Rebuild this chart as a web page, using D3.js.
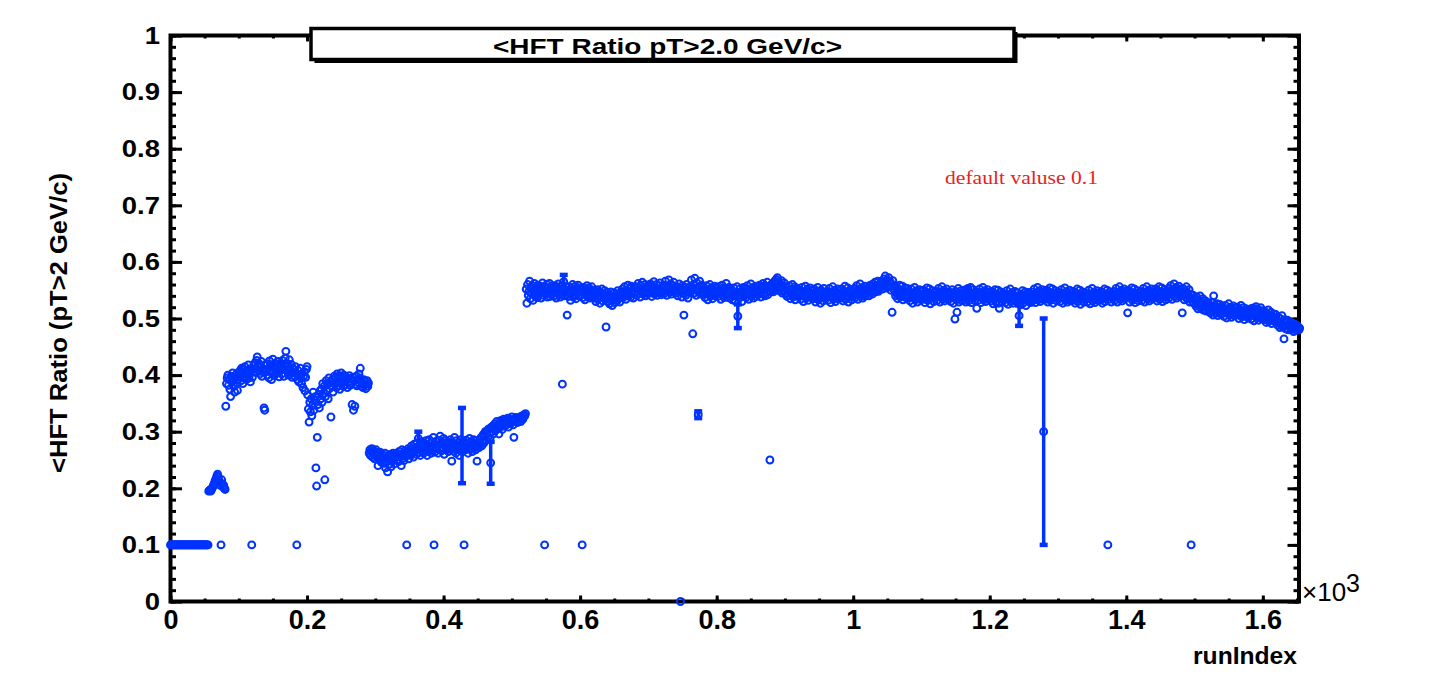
<!DOCTYPE html>
<html><head><meta charset="utf-8">
<script src="https://cdn.jsdelivr.net/npm/d3@7"></script>
<style>html,body{margin:0;padding:0;background:#fff;} svg{display:block;}</style>
</head><body>
<svg id="c" width="1431" height="685"></svg>
<script>
// ---------------- DATA ----------------
const xTickValues = [0, 200, 400, 600, 800, 1000, 1200, 1400, 1600];
const xTickLabels = ["0", "0.2", "0.4", "0.6", "0.8", "1", "1.2", "1.4", "1.6"];
const yTickValues = [0, 0.1, 0.2, 0.3, 0.4, 0.5, 0.6, 0.7, 0.8, 0.9, 1];
const yTickLabels = ["0", "0.1", "0.2", "0.3", "0.4", "0.5", "0.6", "0.7", "0.8", "0.9", "1"];

// runs 0-55 : default value
const segAStart = 0;
const segA = [
0.1,0.1,0.1,0.1,0.1,0.1,0.1,0.1,0.1,0.1,0.1,0.1,0.1,0.1,
0.1,0.1,0.1,0.1,0.1,0.1,0.1,0.1,0.1,0.1,0.1,0.1,0.1,0.1,
0.1,0.1,0.1,0.1,0.1,0.1,0.1,0.1,0.1,0.1,0.1,0.1,0.1,0.1,
0.1,0.1,0.1,0.1,0.1,0.1,0.1,0.1,0.1,0.1,0.1,0.1,0.1,0.1];
// runs 56-80
const segBStart = 56;
const segB = [0.195,0.196,0.197,0.195,0.198,0.200,0.203,0.205,0.208,0.212,0.215,0.218,0.222,0.225,0.220,0.214,0.210,0.205,0.200,0.215,0.208,0.202,0.205,0.200,0.198];
// runs 81-290
const segCStart = 81;
const segC = [
0.345,0.385,0.395,0.400,0.382,0.392,0.375,0.362,0.398,0.388,0.404,0.393,0.380,0.370,0.396,0.401,0.386,0.373,0.392,0.405,
0.398,0.408,0.390,0.412,0.402,0.385,0.410,0.397,0.415,0.404,0.392,0.409,0.400,0.418,0.395,0.406,0.388,0.411,0.402,0.396,
0.410,0.418,0.405,0.422,0.412,0.426,0.432,0.415,0.408,0.420,0.402,0.416,0.424,0.398,0.411,0.405,0.342,0.338,0.417,0.406,
0.420,0.400,0.412,0.395,0.425,0.408,0.418,0.392,0.404,0.428,0.413,0.399,0.421,0.410,0.403,0.416,0.424,0.407,0.397,0.414,
0.408,0.419,0.402,0.426,0.411,0.398,0.417,0.430,0.442,0.421,0.409,0.415,0.400,0.427,0.413,0.405,0.419,0.396,0.412,0.404,
0.410,0.398,0.415,0.404,0.400,0.392,0.408,0.388,0.400,0.412,0.395,0.385,0.403,0.378,0.398,0.406,0.372,0.396,0.410,0.415,
0.365,0.340,0.317,0.352,0.335,0.358,0.328,0.346,0.370,0.338,0.355,0.362,0.236,0.204,0.290,0.348,0.366,0.342,0.372,0.358,
0.375,0.352,0.385,0.368,0.380,0.215,0.362,0.390,0.372,0.383,0.358,0.395,0.376,0.388,0.326,0.380,0.392,0.370,0.386,0.398,
0.385,0.395,0.378,0.402,0.390,0.382,0.398,0.375,0.392,0.404,0.386,0.396,0.380,0.400,0.389,0.383,0.397,0.391,0.378,0.394,
0.388,0.399,0.382,0.393,0.385,0.348,0.396,0.338,0.390,0.345,0.384,0.398,0.381,0.392,0.387,0.402,0.395,0.412,0.389,0.380,
0.385,0.378,0.392,0.383,0.388,0.376,0.384,0.390,0.380,0.386];
// runs 291-520
const segDStart = 291;
const segD = [
0.262,0.268,0.258,0.265,0.270,0.255,0.262,0.266,0.252,0.260,0.268,0.257,0.263,0.240,0.259,0.250,0.264,0.255,0.246,0.260,
0.250,0.258,0.244,0.262,0.236,0.253,0.247,0.229,0.256,0.242,0.260,0.250,0.238,0.257,0.248,0.262,0.252,0.243,0.258,0.255,
0.262,0.250,0.258,0.247,0.265,0.255,0.260,0.240,0.268,0.253,0.261,0.249,0.266,0.257,0.263,0.259,0.258,0.270,0.252,0.264,
0.268,0.258,0.275,0.262,0.270,0.255,0.278,0.266,0.272,0.260,0.280,0.268,0.288,0.263,0.274,0.258,0.270,0.282,0.265,0.276,
0.262,0.278,0.268,0.284,0.272,0.258,0.276,0.265,0.286,0.270,0.280,0.262,0.275,0.268,0.290,0.272,0.264,0.278,0.283,0.270,
0.275,0.262,0.285,0.270,0.292,0.278,0.266,0.280,0.272,0.288,0.260,0.276,0.284,0.268,0.274,0.282,0.265,0.278,0.270,0.286,
0.272,0.248,0.280,0.266,0.275,0.290,0.270,0.262,0.284,0.276,0.268,0.280,0.258,0.274,0.286,0.270,0.276,0.265,0.282,0.272,
0.278,0.268,0.285,0.272,0.280,0.262,0.276,0.288,0.270,0.282,0.274,0.265,0.280,0.286,0.272,0.278,0.268,0.284,0.248,0.276,
0.280,0.272,0.286,0.278,0.290,0.275,0.284,0.295,0.280,0.292,0.300,0.286,0.296,0.302,0.290,0.305,0.298,0.288,0.245,0.308,
0.300,0.310,0.296,0.306,0.314,0.302,0.310,0.318,0.305,0.312,0.296,0.316,0.308,0.320,0.312,0.304,0.318,0.322,0.310,0.316,
0.320,0.312,0.318,0.324,0.308,0.316,0.322,0.314,0.320,0.326,0.318,0.312,0.290,0.322,0.318,0.325,0.320,0.316,0.324,0.320,
0.322,0.326,0.318,0.324,0.328,0.322,0.326,0.330,0.328,0.332];
// runs 521-1654
const segEStart = 521;
const segE = [
0.552,0.527,0.560,0.541,0.548,0.566,0.535,0.553,0.544,0.558,0.532,0.549,0.562,0.540,0.555,0.546,0.537,0.559,0.543,0.551,
0.544,0.557,0.536,0.552,0.563,0.541,0.549,0.533,0.556,0.546,0.560,0.538,0.553,0.545,0.562,0.539,0.550,0.542,0.558,0.547,
0.553,0.540,0.558,0.546,0.536,0.555,0.549,0.561,0.542,0.551,0.538,0.557,0.545,0.384,0.552,0.565,0.540,0.548,0.556,0.543,
0.506,0.550,0.539,0.556,0.544,0.532,0.553,0.547,0.560,0.538,0.549,0.542,0.557,0.535,0.551,0.545,0.559,0.540,0.548,0.554,
0.541,0.552,0.546,0.537,0.555,0.548,0.533,0.551,0.543,0.558,0.539,0.547,0.554,0.536,0.549,0.542,0.556,0.538,0.545,0.550,
0.536,0.547,0.530,0.543,0.551,0.534,0.540,0.548,0.527,0.545,0.538,0.552,0.531,0.544,0.539,0.549,0.533,0.485,0.541,0.546,
0.530,0.542,0.526,0.538,0.547,0.532,0.523,0.540,0.535,0.545,0.528,0.537,0.543,0.531,0.549,0.536,0.541,0.529,0.546,0.538,
0.541,0.552,0.537,0.548,0.556,0.543,0.534,0.550,0.545,0.559,0.540,0.547,0.553,0.538,0.557,0.544,0.549,0.536,0.555,0.546,
0.547,0.556,0.541,0.553,0.562,0.545,0.551,0.538,0.558,0.549,0.564,0.543,0.552,0.547,0.560,0.540,0.555,0.550,0.544,0.559,
0.553,0.545,0.561,0.548,0.539,0.557,0.550,0.565,0.543,0.554,0.547,0.560,0.541,0.552,0.558,0.546,0.563,0.549,0.542,0.556,
0.548,0.559,0.544,0.555,0.566,0.550,0.541,0.557,0.553,0.568,0.546,0.554,0.561,0.543,0.558,0.551,0.564,0.547,0.556,0.549,
0.545,0.556,0.540,0.552,0.561,0.547,0.000,0.553,0.538,0.558,0.549,0.506,0.544,0.555,0.541,0.560,0.548,0.536,0.554,0.550,
0.556,0.547,0.568,0.552,0.473,0.560,0.545,0.571,0.550,0.541,0.563,0.554,0.330,0.548,0.566,0.557,0.543,0.559,0.551,0.546,
0.542,0.553,0.537,0.549,0.558,0.544,0.533,0.551,0.546,0.560,0.539,0.548,0.555,0.535,0.550,0.543,0.557,0.540,0.547,0.552,
0.548,0.539,0.556,0.544,0.551,0.534,0.546,0.559,0.541,0.553,0.537,0.549,0.545,0.562,0.538,0.552,0.543,0.555,0.536,0.550,
0.538,0.549,0.533,0.545,0.554,0.540,0.531,0.547,0.543,0.556,0.504,0.546,0.536,0.552,0.541,0.548,0.530,0.544,0.555,0.539,
0.542,0.553,0.537,0.549,0.558,0.544,0.534,0.551,0.546,0.561,0.540,0.548,0.555,0.536,0.550,0.543,0.557,0.539,0.547,0.552,
0.551,0.543,0.559,0.547,0.538,0.555,0.549,0.562,0.544,0.553,0.540,0.557,0.546,0.564,0.542,0.550,0.556,0.250,0.548,0.560,
0.553,0.562,0.547,0.558,0.566,0.551,0.569,0.560,0.572,0.556,0.565,0.549,0.561,0.554,0.567,0.545,0.558,0.550,0.563,0.548,
0.544,0.555,0.539,0.550,0.541,0.558,0.546,0.535,0.552,0.543,0.560,0.538,0.549,0.556,0.533,0.547,0.554,0.540,0.551,0.545,
0.539,0.550,0.534,0.546,0.555,0.541,0.530,0.548,0.543,0.557,0.536,0.545,0.552,0.532,0.547,0.540,0.554,0.537,0.544,0.549,
0.543,0.535,0.552,0.540,0.529,0.548,0.538,0.555,0.533,0.545,0.541,0.527,0.550,0.537,0.546,0.531,0.553,0.539,0.544,0.536,
0.537,0.548,0.532,0.544,0.553,0.539,0.528,0.546,0.541,0.556,0.534,0.543,0.550,0.530,0.547,0.538,0.552,0.535,0.542,0.549,
0.545,0.536,0.552,0.540,0.531,0.549,0.543,0.557,0.534,0.547,0.541,0.554,0.529,0.546,0.538,0.551,0.544,0.533,0.550,0.539,
0.542,0.553,0.537,0.549,0.558,0.544,0.534,0.551,0.546,0.561,0.539,0.548,0.555,0.536,0.550,0.543,0.557,0.540,0.547,0.552,
0.545,0.554,0.540,0.550,0.559,0.546,0.556,0.543,0.561,0.549,0.553,0.564,0.547,0.558,0.551,0.566,0.548,0.560,0.555,0.563,
0.557,0.566,0.552,0.562,0.570,0.558,0.575,0.563,0.554,0.568,0.560,0.572,0.556,0.565,0.550,0.561,0.511,0.567,0.553,0.558,
0.548,0.540,0.556,0.544,0.535,0.552,0.546,0.559,0.538,0.550,0.543,0.557,0.533,0.549,0.541,0.554,0.537,0.547,0.553,0.539,
0.536,0.547,0.531,0.543,0.552,0.538,0.527,0.545,0.540,0.555,0.533,0.542,0.549,0.529,0.544,0.537,0.551,0.534,0.541,0.548,
0.543,0.534,0.550,0.539,0.528,0.547,0.537,0.554,0.532,0.545,0.540,0.552,0.526,0.544,0.536,0.549,0.541,0.530,0.546,0.538,
0.537,0.548,0.532,0.544,0.553,0.539,0.529,0.546,0.541,0.556,0.534,0.543,0.550,0.531,0.545,0.538,0.552,0.535,0.542,0.547,
0.535,0.546,0.530,0.542,0.551,0.537,0.527,0.544,0.499,0.548,0.533,0.511,0.540,0.553,0.529,0.545,0.536,0.549,0.532,0.541,
0.543,0.534,0.550,0.539,0.529,0.547,0.548,0.553,0.531,0.545,0.540,0.555,0.528,0.544,0.536,0.551,0.542,0.532,0.546,0.538,
0.518,0.547,0.532,0.543,0.552,0.538,0.528,0.545,0.540,0.555,0.533,0.542,0.549,0.530,0.544,0.537,0.551,0.534,0.541,0.546,
0.540,0.531,0.548,0.536,0.526,0.545,0.534,0.551,0.529,0.543,0.538,0.550,0.527,0.518,0.535,0.547,0.539,0.530,0.544,0.537,
0.533,0.544,0.528,0.540,0.549,0.535,0.525,0.542,0.537,0.552,0.530,0.539,0.546,0.527,0.541,0.534,0.548,0.531,0.538,0.545,
0.538,0.529,0.505,0.534,0.524,0.543,0.532,0.549,0.527,0.541,0.536,0.547,0.523,0.540,0.533,0.546,0.530,0.544,0.537,0.528,
0.536,0.547,0.531,0.543,0.552,0.538,0.528,0.545,0.540,0.555,0.533,0.542,0.549,0.530,0.544,0.537,0.551,0.534,0.300,0.546,
0.543,0.534,0.550,0.539,0.529,0.547,0.537,0.554,0.532,0.545,0.540,0.552,0.527,0.544,0.536,0.549,0.541,0.531,0.546,0.538,
0.535,0.546,0.530,0.542,0.551,0.537,0.527,0.544,0.539,0.554,0.532,0.541,0.548,0.529,0.543,0.536,0.550,0.533,0.540,0.545,
0.541,0.532,0.548,0.537,0.527,0.545,0.535,0.552,0.530,0.543,0.538,0.550,0.525,0.542,0.534,0.547,0.539,0.529,0.544,0.536,
0.534,0.545,0.529,0.541,0.550,0.536,0.526,0.543,0.538,0.553,0.531,0.540,0.547,0.528,0.542,0.535,0.549,0.532,0.539,0.544,
0.541,0.532,0.548,0.537,0.527,0.545,0.535,0.552,0.530,0.543,0.538,0.550,0.540,0.542,0.534,0.547,0.539,0.529,0.544,0.536,
0.537,0.548,0.532,0.544,0.553,0.539,0.529,0.546,0.541,0.556,0.534,0.543,0.550,0.531,0.545,0.538,0.552,0.535,0.542,0.547,
0.543,0.510,0.550,0.539,0.529,0.547,0.537,0.554,0.532,0.545,0.540,0.552,0.528,0.544,0.536,0.549,0.541,0.531,0.546,0.538,
0.537,0.548,0.532,0.544,0.553,0.539,0.529,0.546,0.541,0.556,0.534,0.543,0.550,0.531,0.545,0.538,0.552,0.535,0.542,0.547,
0.545,0.536,0.552,0.541,0.531,0.549,0.539,0.556,0.534,0.547,0.542,0.554,0.530,0.546,0.538,0.551,0.543,0.533,0.548,0.540,
0.542,0.553,0.537,0.549,0.558,0.544,0.534,0.551,0.546,0.561,0.539,0.548,0.555,0.536,0.550,0.543,0.557,0.540,0.547,0.552,
0.546,0.510,0.553,0.541,0.533,0.549,0.538,0.556,0.535,0.545,0.540,0.551,0.529,0.543,0.537,0.536,0.530,0.541,0.527,0.534,
0.532,0.522,0.538,0.526,0.517,0.533,0.524,0.540,0.519,0.529,0.523,0.535,0.515,0.527,0.520,0.531,0.513,0.525,0.518,0.528,
0.516,0.524,0.510,0.520,0.528,0.513,0.506,0.540,0.518,0.523,0.509,0.517,0.526,0.505,0.519,0.512,0.525,0.508,0.515,0.521,
0.509,0.518,0.504,0.515,0.523,0.510,0.501,0.517,0.512,0.526,0.506,0.514,0.520,0.502,0.516,0.509,0.522,0.505,0.513,0.519,
0.514,0.506,0.520,0.509,0.500,0.516,0.507,0.523,0.503,0.513,0.508,0.519,0.498,0.511,0.505,0.517,0.510,0.501,0.515,0.507,
0.504,0.513,0.499,0.510,0.518,0.515,0.496,0.512,0.507,0.521,0.501,0.509,0.516,0.497,0.511,0.505,0.519,0.500,0.508,0.514,
0.506,0.498,0.512,0.502,0.493,0.509,0.500,0.515,0.495,0.505,0.501,0.511,0.491,0.504,0.497,0.508,0.502,0.494,0.507,0.499,
0.496,0.488,0.502,0.492,0.484,0.499,0.490,0.505,0.486,0.494,0.464,0.498,0.482,0.493,0.487,0.497,0.480,0.491,0.485,0.489,
0.488,0.481,0.492,0.484,0.477,0.490,0.483,0.486,0.479,0.488,0.482,0.485,0.480,0.483];

// isolated runs that carry the default value 0.1
const defaultRuns = [74, 119, 185, 346, 386, 430, 548, 603, 1373, 1495];
const defaultValue = 0.1;
// runs drawn with visible error bars
const errRuns  = [363, 427, 469, 576, 773, 831, 1167, 1243, 1279, 1586];
const errVals  = [0.288, 0.2755, 0.245, 0.565, 0.330, 0.504, 0.548, 0.505, 0.300, 0.515];
const errSizes = [0.012, 0.0665, 0.037, 0.012, 0.006, 0.021, 0.006, 0.018, 0.200, 0.006];

const titleText = "<HFT Ratio pT>2.0 GeV/c>";
const yTitle = "<HFT Ratio (pT>2 GeV/c)";
const xTitle = "runIndex";
const noteText = "default valuse 0.1";

// ---------------- DRAW ----------------
const blue = "#0033ff";
const svg = d3.select("#c");
const x = d3.scaleLinear().domain([0, 1653]).range([170.5, 1299]);
const y = d3.scaleLinear().domain([0, 1]).range([601.5, 35.5]);

const values = new Map();
function put(start, arr) { arr.forEach((v, i) => values.set(start + i, v)); }
put(segAStart, segA); put(segBStart, segB); put(segCStart, segC); put(segDStart, segD); put(segEStart, segE);
defaultRuns.forEach(r => values.set(r, defaultValue));
errRuns.forEach((r, i) => values.set(r, errVals[i]));
const points = Array.from(values, ([run, v]) => ({run, v}));
const errs = errRuns.map((r, i) => ({run: r, v: errVals[i], e: errSizes[i]}));

const FONT = "'Liberation Sans', Arial, Helvetica, sans-serif";

// frame
svg.append("rect").attr("x", x(0)).attr("y", y(1))
  .attr("width", x(1653) - x(0)).attr("height", y(0) - y(1))
  .attr("fill", "none").attr("stroke", "#000").attr("stroke-width", 4);

function styleAxis(g) {
  g.select(".domain").remove();
  g.selectAll(".tick line").attr("stroke", "#000").attr("stroke-width", 3);
}
const xMinor = d3.range(0, 1653, 50);
const yMinor = d3.range(0, 1.0001, 0.02);

// bottom
svg.append("g").attr("transform", `translate(0,${y(0)})`)
  .call(d3.axisBottom(x).tickValues(xMinor).tickSize(-3).tickFormat("")).call(styleAxis);
const gx = svg.append("g").attr("transform", `translate(0,${y(0)})`)
  .call(d3.axisBottom(x).tickValues(xTickValues).tickSize(-6).tickPadding(8)
    .tickFormat(d => xTickLabels[xTickValues.indexOf(d)])).call(styleAxis);
gx.attr("font-family", FONT).attr("font-size", 27).attr("font-weight", "bold");
gx.selectAll("text").attr("fill", "#000");
// top
svg.append("g").attr("transform", `translate(0,${y(1)})`)
  .call(d3.axisTop(x).tickValues(xMinor).tickSize(-3).tickFormat("")).call(styleAxis);
svg.append("g").attr("transform", `translate(0,${y(1)})`)
  .call(d3.axisTop(x).tickValues(xTickValues).tickSize(-6).tickFormat("")).call(styleAxis);
// left
svg.append("g").attr("transform", `translate(${x(0)},0)`)
  .call(d3.axisLeft(y).tickValues(yMinor).tickSize(-5.5).tickFormat("")).call(styleAxis);
const gy = svg.append("g").attr("transform", `translate(${x(0)},0)`)
  .call(d3.axisLeft(y).tickValues(yTickValues).tickSize(-11.5).tickPadding(10.5)
    .tickFormat(d => yTickLabels[yTickValues.indexOf(d)])).call(styleAxis);
gy.attr("font-family", FONT).attr("font-size", 24.5).attr("font-weight", "bold");
gy.selectAll("text").attr("fill", "#000").attr("x", 0)
  .attr("transform", "translate(-10.5,0) scale(1.12,1)");
// right
svg.append("g").attr("transform", `translate(${x(1653)},0)`)
  .call(d3.axisRight(y).tickValues(yMinor).tickSize(-5.5).tickFormat("")).call(styleAxis);
svg.append("g").attr("transform", `translate(${x(1653)},0)`)
  .call(d3.axisRight(y).tickValues(yTickValues).tickSize(-11.5).tickFormat("")).call(styleAxis);

// markers
svg.append("g").selectAll("circle").data(points).join("circle")
  .attr("cx", d => x(d.run)).attr("cy", d => y(d.v)).attr("r", 3.45)
  .attr("fill", "none").attr("stroke", blue).attr("stroke-width", 2);

// error bars
const eg = svg.append("g").selectAll("g").data(errs).join("g");
eg.append("line")
  .attr("x1", d => x(d.run)).attr("x2", d => x(d.run))
  .attr("y1", d => y(d.v - d.e)).attr("y2", d => y(d.v + d.e))
  .attr("stroke", blue).attr("stroke-width", 3.5);
eg.append("rect").attr("x", d => x(d.run) - 4).attr("y", d => y(d.v + d.e) - 2.25)
  .attr("width", 8).attr("height", 4.5).attr("fill", blue);
eg.append("rect").attr("x", d => x(d.run) - 4).attr("y", d => y(d.v - d.e) - 2.25)
  .attr("width", 8).attr("height", 4.5).attr("fill", blue);

// title box
svg.append("rect").attr("x", 314.5).attr("y", 32).attr("width", 703).attr("height", 31).attr("fill", "#000");
svg.append("rect").attr("x", 311).attr("y", 28.5).attr("width", 703).attr("height", 31)
  .attr("fill", "#fff").attr("stroke", "#000").attr("stroke-width", 3.5);
svg.append("text").attr("x", 667.5).attr("y", 53.5).attr("text-anchor", "middle")
  .attr("font-family", FONT).attr("font-weight", "bold").attr("font-size", 22)
  .attr("textLength", 349).attr("lengthAdjust", "spacingAndGlyphs").text(titleText);

// axis titles
svg.append("text").attr("transform", "translate(67,323) rotate(-90)").attr("text-anchor", "middle")
  .attr("font-family", FONT).attr("font-weight", "bold").attr("font-size", 24)
  .attr("textLength", 300).attr("lengthAdjust", "spacingAndGlyphs").text(yTitle);
svg.append("text").attr("x", 1297).attr("y", 664).attr("text-anchor", "end")
  .attr("font-family", FONT).attr("font-weight", "bold").attr("font-size", 24)
  .attr("textLength", 104).attr("lengthAdjust", "spacingAndGlyphs").text(xTitle);
svg.append("text").attr("x", 1302).attr("y", 601)
  .attr("font-family", FONT).attr("font-size", 26).text("\u00d710");
svg.append("text").attr("x", 1346).attr("y", 592)
  .attr("font-family", FONT).attr("font-size", 25).text("3");

// note
svg.append("text").attr("x", 945).attr("y", 184)
  .attr("font-family", "'Liberation Serif', 'Times New Roman', serif").attr("font-size", 19.5)
  .attr("fill", "#e8221c").attr("textLength", 153).attr("lengthAdjust", "spacingAndGlyphs").text(noteText);
</script>
</body></html>
